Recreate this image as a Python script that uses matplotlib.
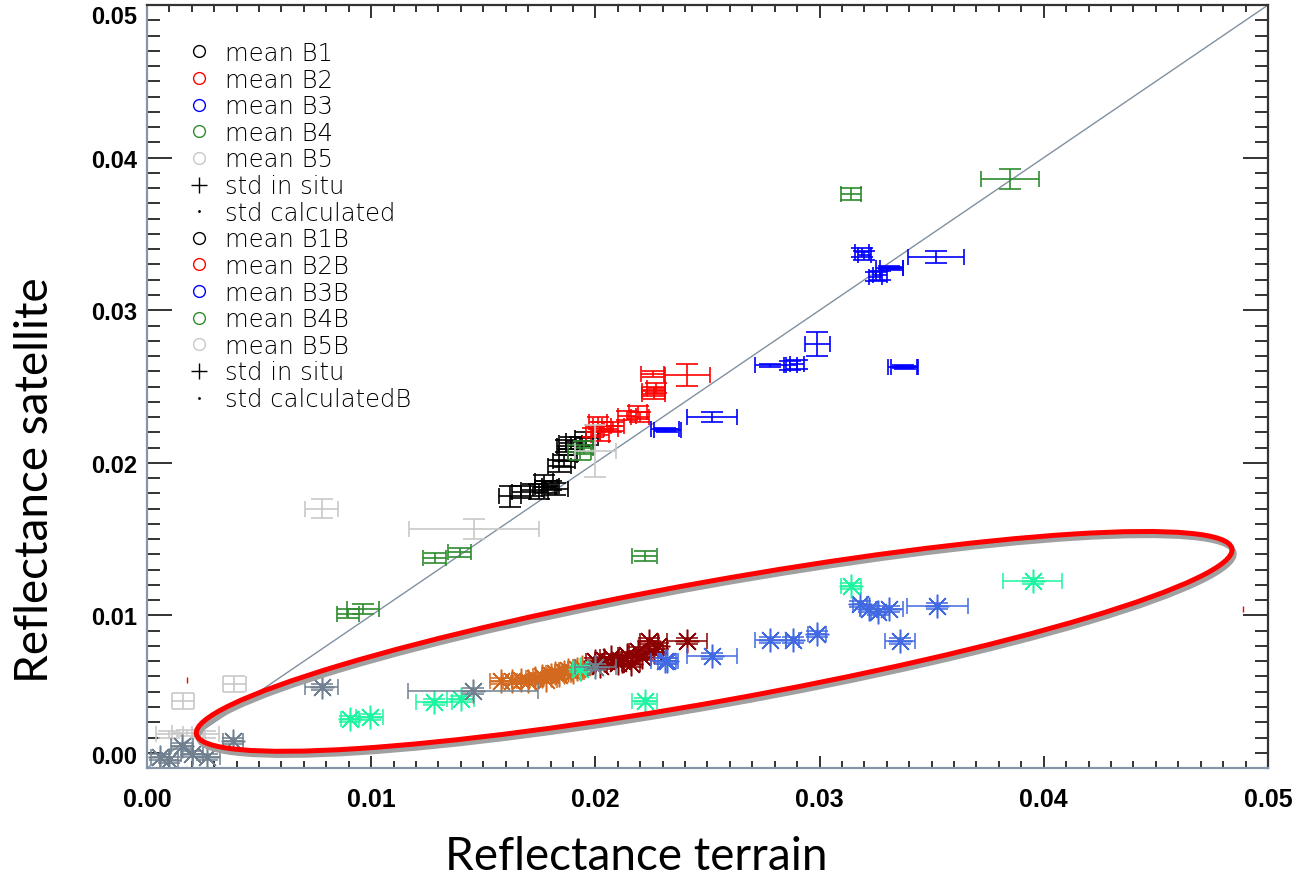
import matplotlib
matplotlib.use('Agg')
import numpy as np
import matplotlib.pyplot as plt
from matplotlib.lines import Line2D
from matplotlib.patches import Ellipse
from matplotlib.ticker import MultipleLocator, FormatStrFormatter
from matplotlib.transforms import ScaledTranslation

# band means (terrain x, satellite y) with std deviations, first campaign
b1_x = [0.0162, 0.0167, 0.0172, 0.0175, 0.0178, 0.0180, 0.0182, 0.0177, 0.0184, 0.0186, 0.0188, 0.0187, 0.0189, 0.0196, 0.0193]
b1_y = [0.0178, 0.0181, 0.0182, 0.0181, 0.0184, 0.0185, 0.0183, 0.0188, 0.0198, 0.0201, 0.0205, 0.0211, 0.0213, 0.0216, 0.0214]
b1_xerr = [0.0005, 0.0004, 0.0005, 0.0004, 0.0005, 0.0004, 0.0006, 0.0004, 0.0005, 0.0005, 0.0004, 0.0004, 0.0005, 0.0005, 0.0006]
b1_yerr = [0.0007, 0.0004, 0.0004, 0.0005, 0.0004, 0.0003, 0.0004, 0.0004, 0.0004, 0.0004, 0.0004, 0.0004, 0.0004, 0.0004, 0.0003]

b2_x = [0.0241, 0.02255, 0.0226, 0.0227, 0.0226, 0.0219, 0.0220, 0.0214, 0.0208, 0.0203, 0.0201, 0.0207, 0.0202, 0.0199]
b2_y = [0.02575, 0.0258, 0.0247, 0.0249, 0.0245, 0.0233, 0.0230, 0.0231, 0.0224, 0.0224, 0.0227, 0.0222, 0.0218, 0.0220]
b2_xerr = [0.0010, 0.0005, 0.0005, 0.0004, 0.0005, 0.0004, 0.0004, 0.0004, 0.0005, 0.0004, 0.0004, 0.0003, 0.0004, 0.0003]
b2_yerr = [0.0007, 0.0002, 0.0003, 0.0003, 0.0003, 0.0004, 0.0003, 0.0003, 0.0003, 0.0003, 0.0003, 0.0002, 0.0004, 0.0003]

b3_x = [0.0352, 0.0319, 0.0320, 0.0331, 0.0332, 0.0325, 0.0327, 0.0299, 0.0278, 0.0287, 0.0290, 0.0337, 0.0338, 0.0231, 0.0232, 0.0252]
b3_y = [0.0335, 0.0338, 0.0336, 0.0328, 0.03275, 0.0322, 0.0323, 0.0278, 0.0264, 0.0264, 0.02645, 0.0263, 0.02625, 0.0222, 0.02215, 0.0230]
b3_xerr = [0.00126, 0.0003, 0.0003, 0.0006, 0.0005, 0.0003, 0.0003, 0.00056, 0.0007, 0.0003, 0.0003, 0.00065, 0.0006, 0.00062, 0.0006, 0.0011]
b3_yerr = [0.0004, 0.0003, 0.0003, 0.0001, 0.0001, 0.0003, 0.0003, 0.0008, 0.0001, 0.0003, 0.0003, 0.0001, 0.0001, 0.0001, 0.0001, 0.0003]

b4_x = [0.0385, 0.0314, 0.0222, 0.01395, 0.01283, 0.00963, 0.00896, 0.0193, 0.0195]
b4_y = [0.0386, 0.0376, 0.0139, 0.01415, 0.01376, 0.01042, 0.0101, 0.0207, 0.0210]
b4_xerr = [0.0013, 0.00045, 0.00055, 0.0005, 0.0005, 0.0007, 0.0005, 0.0005, 0.0004]
b4_yerr = [0.00065, 0.0004, 0.0003, 0.0003, 0.0003, 0.0003, 0.0003, 0.0005, 0.0004]

b5_x = [0.0078, 0.01457, 0.0200, 0.0016, 0.0039, 0.0010, 0.0018, 0.0026]
b5_y = [0.0170, 0.01566, 0.0208, 0.0044, 0.0055, 0.0022, 0.0023, 0.0022]
b5_xerr = [0.00074, 0.0029, 0.0009, 0.0005, 0.0005, 0.0006, 0.0007, 0.0006]
b5_yerr = [0.0006, 0.00066, 0.0017, 0.0005, 0.0005, 0.0002, 0.0002, 0.0002]

# isolated calculated-std marks
stray_x = [0.0018, 0.0489]
stray_y = [0.0058, 0.0104]

# second campaign (B)
b1b_x = [0.0158, 0.0163, 0.0167, 0.0170, 0.0173, 0.0176, 0.0178, 0.0180, 0.0182, 0.0184, 0.0186, 0.0188, 0.0190, 0.0192, 0.0194]
b1b_y = [0.0057, 0.0057, 0.0058, 0.0057, 0.0059, 0.0060, 0.0058, 0.0061, 0.0062, 0.0061, 0.0063, 0.0064, 0.0063, 0.0065, 0.0066]
b1b_xerr = [0.0005, 0.0004, 0.0004, 0.0005, 0.0004, 0.0004, 0.0005, 0.0004, 0.0004, 0.0005, 0.0004, 0.0004, 0.0005, 0.0004, 0.0004]
b1b_yerr = [0.0002] * 15

b2b_x = [0.0241, 0.0224, 0.0228, 0.0226, 0.0219, 0.0221, 0.0214, 0.0212, 0.0207, 0.0204, 0.0200, 0.0202, 0.0216, 0.0210]
b2b_y = [0.0083, 0.0083, 0.0080, 0.0076, 0.0077, 0.0073, 0.0074, 0.0070, 0.0073, 0.0071, 0.0070, 0.0067, 0.0068, 0.0069]
b2b_xerr = [0.0009, 0.0004, 0.0004, 0.0004, 0.0004, 0.0004, 0.0004, 0.0004, 0.0005, 0.0004, 0.0004, 0.0003, 0.0004, 0.0003]
b2b_yerr = [0.0002] * 14

b3b_x = [0.03525, 0.0318, 0.0322, 0.0326, 0.0331, 0.0336, 0.0299, 0.0288, 0.0278, 0.0252, 0.0231, 0.0232]
b3b_y = [0.01062, 0.01075, 0.0104, 0.01022, 0.01042, 0.00832, 0.00878, 0.00839, 0.00839, 0.00734, 0.00701, 0.0070]
b3b_xerr = [0.00136, 0.0003, 0.0004, 0.0003, 0.0006, 0.00067, 0.0004, 0.0003, 0.0007, 0.0011, 0.0006, 0.0004]
b3b_yerr = [0.0002] * 12

b4b_x = [0.0395, 0.0314, 0.0222, 0.0140, 0.0128, 0.00994, 0.00905, 0.0193]
b4b_y = [0.01225, 0.01193, 0.0044, 0.0045, 0.0043, 0.00334, 0.00321, 0.0065]
b4b_xerr = [0.0013, 0.00045, 0.00055, 0.0006, 0.0008, 0.0006, 0.0004, 0.0003]
b4b_yerr = [0.0002] * 8

b5b_x = [0.0078, 0.01453, 0.0200, 0.00156, 0.00058, 0.00267, 0.00383, 0.0010, 0.0020]
b5b_y = [0.0053, 0.00505, 0.0066, 0.00144, 0.00072, 0.00072, 0.00177, 0.0005, 0.0009]
b5b_xerr = [0.00074, 0.0029, 0.0009, 0.0005, 0.0004, 0.0006, 0.00045, 0.0004, 0.0005]
b5b_yerr = [0.0002] * 9

legend_labels = ['mean B1', 'mean B2', 'mean B3', 'mean B4', 'mean B5', 'std in situ', 'std calculated',
                 'mean B1B', 'mean B2B', 'mean B3B', 'mean B4B', 'mean B5B', 'std in situ', 'std calculatedB']

band_colors = ['black', '#ff0000', '#0000ff', '#2e8b2e', '#c8c8c8']
b_colors = ['#d2691e', '#8b0000', '#4169e1', '#1ef5a0', '#708090']


def plot_band(ax, x, y, xerr, yerr, color, marker=None, lw=1.2):
    ax.errorbar(x, y, xerr=xerr, fmt='none', ecolor=color, elinewidth=lw, capsize=5.5, capthick=lw)
    ax.errorbar(x, y, yerr=yerr, fmt='none', ecolor=color, elinewidth=lw, capsize=8, capthick=lw)
    if marker is not None:
        ax.plot(x, y, linestyle='none', marker=marker, ms=17, mfc='none', mec=color, mew=1.1)


fig = plt.figure(figsize=(12.97, 8.79), dpi=100)
ax = fig.add_axes([0.1133, 0.1251, 0.8643, 0.868])
ax.set_xlim(0, 0.05)
ax.set_ylim(0, 0.05)

# 1:1 line
ax.plot(ax.get_xlim(), ax.get_ylim(), color='#8090a0', lw=1.0, zorder=1)

first = [(b1_x, b1_y, b1_xerr, b1_yerr), (b2_x, b2_y, b2_xerr, b2_yerr), (b3_x, b3_y, b3_xerr, b3_yerr),
         (b4_x, b4_y, b4_xerr, b4_yerr), (b5_x, b5_y, b5_xerr, b5_yerr)]
second = [(b1b_x, b1b_y, b1b_xerr, b1b_yerr), (b2b_x, b2b_y, b2b_xerr, b2b_yerr), (b3b_x, b3b_y, b3b_xerr, b3b_yerr),
          (b4b_x, b4b_y, b4b_xerr, b4b_yerr), (b5b_x, b5b_y, b5b_xerr, b5b_yerr)]

for (x, y, xe, ye), c in zip(first, band_colors):
    plot_band(ax, x, y, xe, ye, c)
for (x, y, xe, ye), c in zip(second, b_colors):
    plot_band(ax, x, y, xe, ye, c, marker=(8, 2, 0), lw=1.1)

ax.plot(stray_x, stray_y, linestyle='none', marker='|', ms=5, mew=1, color='red')

# highlight of the second campaign (size in inches, centred on a data point)
cx, cy = 0.0253, 0.0083
ell_w, ell_h, ell_angle = 10.52, 1.20, 10.15
shadow = Ellipse((0, 0), ell_w, ell_h, angle=ell_angle, fill=False, ec='#a0a0a0', lw=3.8,
                 transform=fig.dpi_scale_trans + ScaledTranslation(cx, cy, ax.transData)
                 + ScaledTranslation(0.02, -0.04, fig.dpi_scale_trans), zorder=5)
ring = Ellipse((0, 0), ell_w, ell_h, angle=ell_angle, fill=False, ec='#ff0000', lw=3.6,
               transform=fig.dpi_scale_trans + ScaledTranslation(cx, cy, ax.transData), zorder=6)
ax.add_patch(shadow)
ax.add_patch(ring)

# ticks
ax.xaxis.set_major_locator(MultipleLocator(0.01))
ax.xaxis.set_minor_locator(MultipleLocator(0.001))
ax.yaxis.set_major_locator(MultipleLocator(0.01))
ax.yaxis.set_minor_locator(MultipleLocator(0.001))
ax.xaxis.set_major_formatter(FormatStrFormatter('%.2f'))
ax.yaxis.set_major_formatter(FormatStrFormatter('%.2f'))
ax.tick_params(which='both', direction='in', top=True, right=True, color='#333333', width=1.4)
ax.tick_params(axis='x', which='major', length=9, pad=14)
ax.tick_params(axis='x', which='minor', length=5)
ax.tick_params(axis='y', which='major', length=18, pad=7)
ax.tick_params(axis='y', which='minor', length=9.5)
for lab in ax.get_xticklabels():
    lab.set_fontfamily('Liberation Sans')
    lab.set_fontsize(18)
    lab.set_fontweight('bold')
for lab in ax.get_yticklabels():
    lab.set_fontfamily('Liberation Sans')
    lab.set_fontsize(17)
    lab.set_fontweight('bold')

# keep the end labels of the y axis inside the frame
ylo, yhi = ax.get_ylim()
for tick, loc in zip(ax.yaxis.get_major_ticks(), ax.yaxis.get_majorticklocs()):
    if np.isclose(loc, ylo):
        tick.label1.set_verticalalignment('bottom')
    elif np.isclose(loc, yhi):
        tick.label1.set_verticalalignment('top')

for side in ['left', 'bottom']:
    ax.spines[side].set_color('#8496a8')
    ax.spines[side].set_linewidth(1.6)
for side in ['top', 'right']:
    ax.spines[side].set_color('#333333')
    ax.spines[side].set_linewidth(1.6)

# legend
handle_specs = [('o', c) for c in band_colors] + [('+', 'black'), ('.', 'black')]
handle_specs = handle_specs + handle_specs
handles = []
for m, c in handle_specs:
    if m == 'o':
        handles.append(Line2D([], [], linestyle='none', marker='o', ms=8.5, mfc='none', mec=c, mew=1.0))
    elif m == '+':
        handles.append(Line2D([], [], linestyle='none', marker='+', ms=11, color=c, mew=1.0))
    else:
        handles.append(Line2D([], [], linestyle='none', marker='.', ms=2, color=c))
ax.legend(handles, legend_labels, loc='upper left', bbox_to_anchor=(0.036, 0.953), frameon=False,
          prop={'family': 'DejaVu Sans', 'weight': 'light', 'size': 17.5},
          handlelength=1.0, handletextpad=0.55, labelspacing=0.108, borderpad=0, borderaxespad=0)

fig.text(0.4904, 0.025, 'Reflectance terrain', ha='center', va='center', family='Lato', fontsize=33)
fig.text(0.027, 0.454, 'Reflectance satellite', ha='center', va='center', rotation=90, family='Lato', fontsize=33)

fig.savefig('out.png', dpi=100)
